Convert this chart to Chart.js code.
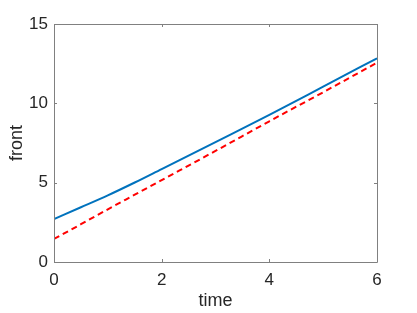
<!DOCTYPE html>
<html>
<head>
<meta charset="utf-8">
<script src="https://cdn.jsdelivr.net/npm/chart.js@4"></script>
<style>
  html, body { margin: 0; padding: 0; background: #fff; }
  #wrap { width: 417px; height: 313px; }
</style>
</head>
<body>
<div id="wrap"><canvas id="c" width="417" height="313"></canvas></div>
<script>
const timeValues = [0, 0.5, 1, 1.5, 2, 3, 4, 5, 6];
const frontSolid = [2.71, 3.45, 4.2, 5.01, 5.86, 7.56, 9.27, 11.05, 12.84];
const frontDashed = [1.45, 2.38, 3.32, 4.24, 5.16, 7.0, 8.87, 10.7, 12.56];
const xTicks = [0, 2, 4, 6];
const yTicks = [0, 5, 10, 15];

const axisColor = '#808080';
const textColor = '#262626';
const fontFamily = '"Liberation Sans", Arial, Helvetica, sans-serif';

const boxPlugin = {
  id: 'boxPlugin',
  afterDraw(chart) {
    const { ctx, chartArea: a, scales } = chart;
    ctx.save();
    ctx.strokeStyle = axisColor;
    ctx.lineWidth = 1;
    ctx.beginPath();
    ctx.rect(Math.round(a.left) + 0.5, Math.round(a.top) + 0.5,
             Math.round(a.right - a.left), Math.round(a.bottom - a.top));
    ctx.stroke();
    const tl = 3;
    ctx.beginPath();
    scales.x.ticks.forEach(t => {
      const px = Math.round(scales.x.getPixelForValue(t.value)) + 0.5;
      ctx.moveTo(px, a.bottom); ctx.lineTo(px, a.bottom - tl);
      ctx.moveTo(px, a.top); ctx.lineTo(px, a.top + tl);
    });
    scales.y.ticks.forEach(t => {
      const py = Math.round(scales.y.getPixelForValue(t.value)) + 0.5;
      ctx.moveTo(a.left, py); ctx.lineTo(a.left + tl, py);
      ctx.moveTo(a.right, py); ctx.lineTo(a.right - tl, py);
    });
    ctx.stroke();
    ctx.restore();
  }
};

new Chart(document.getElementById('c'), {
  type: 'line',
  data: {
    datasets: [
      {
        data: timeValues.map((t, i) => ({ x: t, y: frontSolid[i] })),
        borderColor: '#0072BD',
        borderWidth: 2,
        pointRadius: 0,
        fill: false,
        cubicInterpolationMode: 'monotone'
      },
      {
        data: timeValues.map((t, i) => ({ x: t, y: frontDashed[i] })),
        borderColor: '#FF0000',
        borderWidth: 2,
        borderDash: [6, 4],
        pointRadius: 0,
        fill: false,
        cubicInterpolationMode: 'monotone'
      }
    ]
  },
  options: {
    responsive: false,
    animation: false,
    devicePixelRatio: 1,
    layout: { padding: { left: 0, top: 24, right: 40, bottom: 0 } },
    plugins: { legend: { display: false }, tooltip: { enabled: false } },
    scales: {
      x: {
        type: 'linear',
        min: 0, max: 6,
        afterBuildTicks: s => { s.ticks = xTicks.map(v => ({ value: v })); },
        afterFit: s => { s.height = 51; },
        grid: { display: false, drawTicks: false },
        border: { display: false },
        ticks: { color: textColor, padding: 8, maxRotation: 0,
                 font: { family: fontFamily, size: 17 } },
        title: { display: true, text: 'time', color: textColor,
                 padding: { top: 0, bottom: 1 },
                 font: { family: fontFamily, size: 18 } }
      },
      y: {
        type: 'linear',
        min: 0, max: 15,
        afterBuildTicks: s => { s.ticks = yTicks.map(v => ({ value: v })); },
        afterFit: s => { s.width = 54; },
        grid: { display: false, drawTicks: false },
        border: { display: false },
        ticks: { color: textColor, padding: 6,
                 font: { family: fontFamily, size: 17 } },
        title: { display: true, text: 'front', color: textColor,
                 padding: { top: 6, bottom: 0 },
                 font: { family: fontFamily, size: 18 } }
      }
    }
  },
  plugins: [boxPlugin]
});
</script>
</body>
</html>
